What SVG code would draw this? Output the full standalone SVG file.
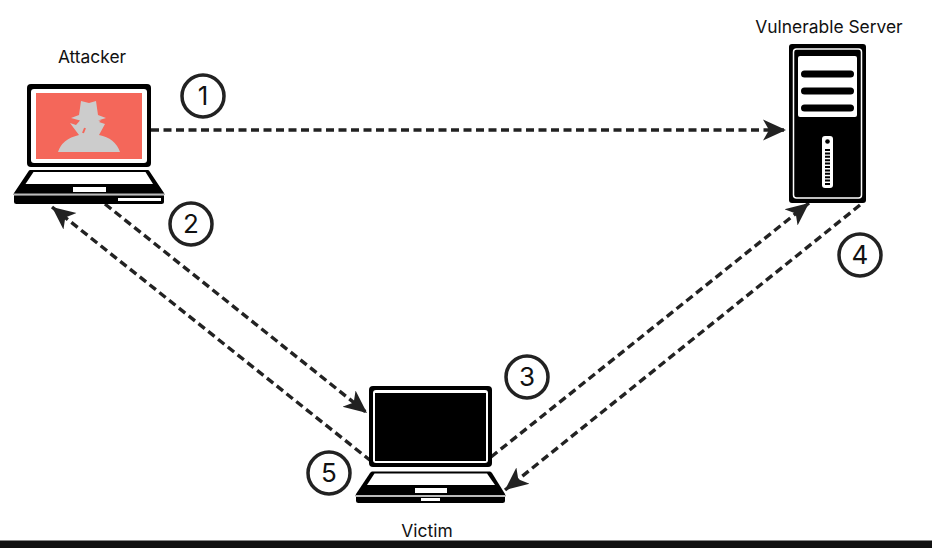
<svg xmlns="http://www.w3.org/2000/svg" width="932" height="548" viewBox="0 0 932 548">
<style>
.lbl{font-family:Inter,"Liberation Sans",sans-serif;font-size:17.400px;fill:#111;text-anchor:middle}
.num{font-family:Inter,"Liberation Sans",sans-serif;font-size:26px;fill:#111;text-anchor:middle}
.badge{fill:#fff;stroke:#222;stroke-width:3.500}
.flow{fill:none;stroke:#222;stroke-width:3.400;stroke-dasharray:8 4.500}
.k{fill:#000}.w{fill:#fff}
</style>
<defs>
<marker id="arrow" markerUnits="userSpaceOnUse" markerWidth="26" markerHeight="24" refX="23" refY="12" orient="auto">
<path d="M0 1.500L23 12L0 22.500L6 12Z" fill="#222"/>
</marker>
</defs>
<rect width="932" height="548" fill="#fff"/>
<rect y="540.500" width="932" height="7.500" fill="#111"/>
<g id="connectors">
<path class="flow" d="M151 130H786" marker-end="url(#arrow)"/>
<path class="flow" d="M105 204L367 413" marker-end="url(#arrow)"/>
<path class="flow" d="M371 461L52 207" marker-end="url(#arrow)"/>
<path class="flow" d="M491 457L809 203" marker-end="url(#arrow)"/>
<path class="flow" d="M860 205L505 490" marker-end="url(#arrow)"/>
</g>
<g id="attacker">
<text class="lbl" x="92" y="63">Attacker</text>
<rect class="k" x="27" y="84" width="124" height="83" rx="4"/>
<rect class="w" x="31" y="89" width="116" height="74" rx="3"/>
<rect x="36" y="93" width="106" height="66" fill="#f4675a"/>
<path fill="#ccc" d="M81 101L89 103L96 101L98 115L106 118L98 120.500H101L99 122L105 124L99 135Q115 138 120 152H58Q62 139 79 135L70 123L76 125L80 120.500L71 118L79 115Z"/>
<path d="M83 133L85 128" stroke="#f4675a" stroke-width="2" fill="none"/>
<path class="k" d="M30 170H148Q149 170 150 172L164 193Q165 195 164 195H14Q13 195 14 193L28 172Q29 170 30 170Z"/>
<path class="w" d="M33.500 172H145.500L153 184H25.500Z"/>
<rect class="w" x="73" y="187" width="33" height="5"/>
<rect x="14" y="193.500" width="150" height="2" fill="#bbb"/>
<path class="k" d="M14 195.500H164V201.500Q164 204 161.500 204H16.500Q14 204 14 201.500Z"/>
<rect class="w" x="118" y="198" width="43" height="3"/>
</g>
<g id="server">
<text class="lbl" x="829" y="33">Vulnerable Server</text>
<rect class="k" x="789" y="44" width="77" height="159" rx="3"/>
<rect x="793.500" y="49" width="68" height="149" rx="3" fill="none" stroke="#fff" stroke-width="1.500"/>
<rect class="w" x="798" y="56" width="59" height="61" rx="2"/>
<rect class="k" x="801" y="70.500" width="53" height="7" rx="3.500"/>
<rect class="k" x="801" y="87.500" width="53" height="7" rx="3.500"/>
<rect class="k" x="801" y="104.500" width="53" height="7" rx="3.500"/>
<rect class="w" x="822" y="136" width="11" height="52" rx="3"/>
<circle class="k" cx="827.500" cy="141.500" r="2.300"/>
<path d="M827.500 149V186" stroke="#000" stroke-width="5" stroke-dasharray="2 1.400" fill="none"/>
</g>
<g id="victim">
<text class="lbl" x="427" y="537">Victim</text>
<rect class="k" x="369" y="386" width="123" height="81" rx="4"/>
<rect class="w" x="373" y="390" width="115" height="73" rx="3"/>
<rect class="k" x="375" y="393" width="111" height="68"/>
<path class="k" d="M372 471.500H490Q491 471.500 492 473L505 494Q506 496.500 505 496.500H356Q355 496.500 356 494L370 473Q371 471.500 372 471.500Z"/>
<path class="w" d="M374.500 473.500H487L495 485H367Z"/>
<rect class="w" x="415" y="488" width="32" height="5"/>
<rect x="356" y="495" width="149" height="2" fill="#bbb"/>
<path class="k" d="M356 497H505V500.500Q505 503 502.500 503H358.500Q356 503 356 500.500Z"/>
<rect class="w" x="421" y="498" width="19" height="3"/>
</g>
<g id="badge-1"><circle class="badge" cx="203" cy="96" r="21"/><text class="num" x="203" y="105">1</text></g>
<g id="badge-2"><circle class="badge" cx="191" cy="224" r="21"/><text class="num" x="191" y="233">2</text></g>
<g id="badge-3"><circle class="badge" cx="527" cy="377" r="21"/><text class="num" x="527" y="386">3</text></g>
<g id="badge-4"><circle class="badge" cx="860" cy="255" r="21"/><text class="num" x="860" y="264">4</text></g>
<g id="badge-5"><circle class="badge" cx="329" cy="473" r="21"/><text class="num" x="329" y="482">5</text></g>
</svg>
